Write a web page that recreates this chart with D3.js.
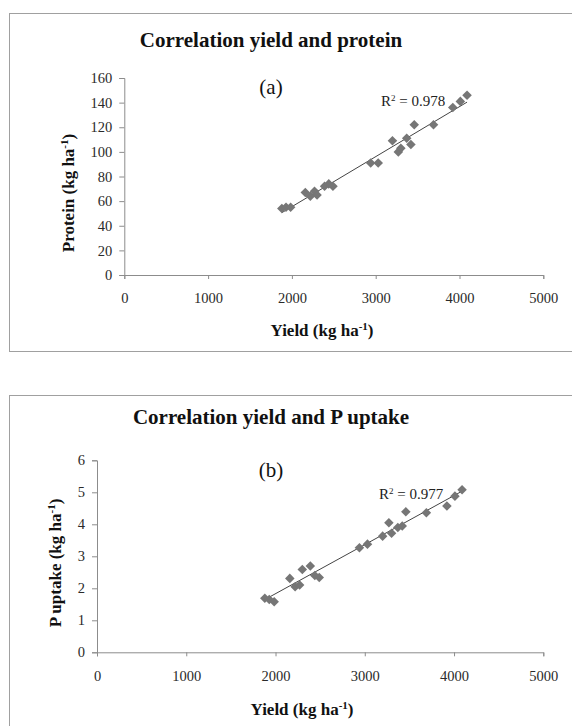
<!DOCTYPE html>
<html>
<head>
<meta charset="utf-8">
<script src="https://cdn.jsdelivr.net/npm/d3@7"></script>
<style>
  body { margin: 0; background: #fff; }
  svg { display: block; }
</style>
</head>
<body>
<script>
// Yield values shared by both panels (kg ha-1)
var yieldVals = [1880, 1930, 1985, 2160, 2220, 2270, 2300, 2390, 2440, 2490, 2940,
                 3030, 3200, 3270, 3300, 3370, 3420, 3460, 3690, 3920, 4010, 4090];
// Panel (a) protein (kg ha-1)
var proteinVals = [54, 55, 55, 67, 64, 68, 65, 72, 74, 72, 91,
                   91, 109, 100, 103, 111, 106, 122, 122, 136, 141, 146];
// Panel (b) P uptake (kg ha-1)
var pUptakeVals = [1.69, 1.65, 1.58, 2.31, 2.05, 2.10, 2.59, 2.70, 2.40, 2.34, 3.27,
                   3.38, 3.63, 4.05, 3.72, 3.90, 3.95, 4.39, 4.36, 4.57, 4.88, 5.08];

var xTicks = [0, 1000, 2000, 3000, 4000, 5000];
var proteinTicks = [0, 20, 40, 60, 80, 100, 120, 140, 160];
var pTicks = [0, 1, 2, 3, 4, 5, 6];

var width = 572, height = 726;
var serif = "'Liberation Serif', 'Times New Roman', serif";
var markerColor = "#767676";
var axisColor = "#8c8c8c";

var svg = d3.select("body").append("svg")
    .attr("width", width)
    .attr("height", height);

function fit(xs, ys) {
  var n = xs.length, mx = d3.mean(xs), my = d3.mean(ys);
  var sxy = 0, sxx = 0;
  for (var i = 0; i < n; i++) {
    sxy += (xs[i] - mx) * (ys[i] - my);
    sxx += (xs[i] - mx) * (xs[i] - mx);
  }
  var b = sxy / sxx;
  return { slope: b, icpt: my - b * mx };
}

function drawPanel(p) {
  var g = svg.append("g");

  // chart box
  g.append("rect")
    .attr("x", p.box[0] + 0.5).attr("y", p.box[1] + 0.5)
    .attr("width", p.box[2]).attr("height", p.box[3])
    .attr("fill", "#fff")
    .attr("stroke", "#a0a0a0")
    .attr("stroke-width", 1);

  var x = d3.scaleLinear().domain([0, 5000]).range([p.left, p.right]);
  var y = d3.scaleLinear().domain([0, p.yMax]).range([p.bottom, p.top]);

  var xAxis = g.append("g")
    .attr("transform", "translate(0," + p.bottom + ")")
    .call(d3.axisBottom(x).tickValues(xTicks).tickSize(4).tickPadding(14).tickFormat(d3.format("d")));
  var yAxis = g.append("g")
    .attr("transform", "translate(" + p.left + ",0)")
    .call(d3.axisLeft(y).tickValues(p.yTicks).tickSize(5).tickPadding(7).tickSizeOuter(5)
      .tickFormat(d3.format("d")));

  [xAxis, yAxis].forEach(function(ax) {
    ax.attr("font-family", null).attr("font-size", null);
    ax.select(".domain").attr("stroke", axisColor);
    ax.selectAll(".tick line").attr("stroke", axisColor);
    ax.selectAll("text")
      .attr("fill", "#2a2a2a")
      .style("font-family", serif)
      .style("font-size", "14.5px");
  });

  // trend line
  var f = fit(yieldVals, p.vals);
  var x0 = d3.min(yieldVals), x1 = d3.max(yieldVals);
  g.append("line")
    .attr("x1", x(x0)).attr("y1", y(f.icpt + f.slope * x0))
    .attr("x2", x(x1)).attr("y2", y(f.icpt + f.slope * x1))
    .attr("stroke", "#444")
    .attr("stroke-width", 1);

  // points
  var diamond = d3.symbol().type(d3.symbolDiamond2).size(58);
  g.selectAll("path.pt")
    .data(yieldVals)
    .enter()
    .append("path")
    .attr("class", "pt")
    .attr("d", diamond)
    .attr("transform", function(d, i) { return "translate(" + x(d) + "," + y(p.vals[i]) + ")"; })
    .attr("fill", markerColor);

  // R2 label
  var r2 = g.append("text")
    .attr("x", p.r2pos[0]).attr("y", p.r2pos[1])
    .style("font-family", serif).style("font-size", "15px")
    .attr("fill", "#222");
  r2.append("tspan").text("R");
  r2.append("tspan").attr("dy", -5).style("font-size", "9px").text("2");
  r2.append("tspan").attr("dy", 5).text(" = " + p.r2);

  // title
  g.append("text")
    .attr("x", p.titlePos[0]).attr("y", p.titlePos[1])
    .attr("text-anchor", "middle")
    .style("font-family", serif).style("font-size", "21px").style("font-weight", "bold")
    .attr("fill", "#111")
    .text(p.title);

  g.append("text")
    .attr("x", p.tagPos[0]).attr("y", p.tagPos[1])
    .attr("text-anchor", "middle")
    .style("font-family", serif).style("font-size", "21px")
    .attr("fill", "#111")
    .text(p.tag);

  // axis titles
  function unitLabel(sel, name) {
    sel.style("font-family", serif).style("font-size", "17px").style("font-weight", "bold")
      .attr("fill", "#111").attr("text-anchor", "middle");
    sel.append("tspan").text(name + " (kg ha");
    sel.append("tspan").attr("dy", -6).style("font-size", "11px").text("-1");
    sel.append("tspan").attr("dy", 6).text(")");
  }
  unitLabel(g.append("text").attr("x", p.xLabPos[0]).attr("y", p.xLabPos[1]), "Yield");
  unitLabel(g.append("text")
      .attr("transform", "translate(" + p.yLabPos[0] + "," + p.yLabPos[1] + ") rotate(-90)"),
    p.yName);
}

drawPanel({
  box: [9, 13, 600, 338],
  left: 124.3, right: 543.3, top: 78, bottom: 275,
  yMax: 160, yTicks: proteinTicks, vals: proteinVals,
  r2: "0.978", r2pos: [381, 106],
  title: "Correlation yield and protein", titlePos: [271, 47],
  tag: "(a)", tagPos: [271, 94],
  xLabPos: [322, 336], yLabPos: [74, 193], yName: "Protein"
});

drawPanel({
  box: [9, 395, 600, 400],
  left: 97, right: 543.3, top: 460.3, bottom: 652.3,
  yMax: 6, yTicks: pTicks, vals: pUptakeVals,
  r2: "0.977", r2pos: [379, 499],
  title: "Correlation yield and P uptake", titlePos: [271, 424],
  tag: "(b)", tagPos: [271, 477],
  xLabPos: [302, 715], yLabPos: [61, 563], yName: "P uptake"
});
</script>
</body>
</html>
